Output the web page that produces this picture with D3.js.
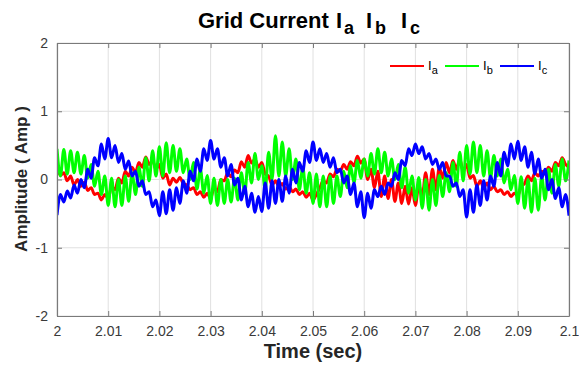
<!DOCTYPE html>
<html><head><meta charset="utf-8">
<script src="https://cdn.jsdelivr.net/npm/d3@7"></script>
<style>body{margin:0;background:#fff}svg{display:block}</style>
</head><body>
<svg id="chart" width="579" height="365"></svg>
<script>
// ---- data (one sample per ripple half-period) ----
const tStart = 2.0;
const tEnd = 2.1;
const Ia = [
 0.20,0.06,0.10,-0.02,0.05,-0.08,0.00,-0.10,-0.04,-0.16,-0.12,-0.22,-0.20,-0.30,-0.22,-0.28,-0.10,-0.15,0.02,-0.05,0.12,0.05,0.18,0.10,0.25,0.18,0.33,0.22,0.28,0.15,
 0.22,0.02,0.08,-0.08,0.02,-0.04,0.03,-0.06,-0.08,-0.15,-0.12,-0.22,-0.18,-0.26,-0.20,-0.28,-0.12,-0.18,0.00,-0.02,0.10,0.04,0.14,0.10,0.26,0.18,0.35,0.24,0.30,0.18,
 0.25,0.08,0.05,-0.08,-0.02,-0.10,-0.06,-0.14,-0.10,-0.18,-0.14,-0.22,-0.18,-0.26,-0.20,-0.30,-0.22,-0.12,-0.02,-0.05,0.08,0.04,0.15,0.12,0.22,0.15,0.26,0.20,0.34,0.24,
 0.30,0.00,0.15,-0.12,0.12,-0.25,0.05,-0.28,0.00,-0.32,-0.05,-0.35,-0.10,-0.36,-0.12,-0.38,-0.08,-0.25,0.10,-0.22,0.15,-0.15,0.18,0.02,0.25,0.10,0.28,0.15,0.30,0.12,
 0.22,0.02,0.06,-0.10,-0.02,-0.12,-0.05,-0.15,-0.10,-0.18,-0.15,-0.22,-0.18,-0.25,-0.20,-0.24,-0.10,-0.06,0.05,-0.02,0.10,0.05,0.12,0.08,0.18,0.12,0.25,0.20,0.32,0.22,
 0.18
];
const Ib = [
 0.45,0.05,0.44,0.08,0.42,0.10,0.40,0.08,0.35,0.02,0.22,-0.10,0.12,-0.22,0.05,-0.38,0.02,-0.40,0.00,-0.38,0.05,-0.32,0.10,-0.22,0.18,-0.10,0.32,-0.02,0.42,0.05,
 0.48,0.05,0.54,0.10,0.50,0.12,0.45,0.10,0.30,0.00,0.25,-0.14,0.15,-0.20,0.06,-0.35,0.02,-0.38,0.00,-0.35,0.00,-0.33,0.02,-0.30,0.10,-0.20,0.25,-0.05,0.38,0.00,
 0.20,-0.15,0.40,0.00,0.64,0.05,0.55,0.05,0.45,0.00,0.30,-0.15,0.18,-0.20,0.10,-0.35,0.08,-0.40,0.05,-0.40,0.05,-0.35,0.05,-0.25,0.12,-0.12,0.20,-0.05,0.28,0.02,
 0.30,0.05,0.38,0.08,0.45,0.10,0.40,0.05,0.30,0.00,0.22,-0.12,0.18,-0.20,0.05,-0.30,0.03,-0.42,0.00,-0.45,0.00,-0.38,0.06,-0.25,0.10,-0.18,0.25,-0.10,0.40,-0.02,
 0.50,0.08,0.55,0.10,0.50,0.05,0.42,0.02,0.35,0.05,0.30,-0.05,0.15,-0.15,0.06,-0.35,0.04,-0.42,0.00,-0.48,0.02,-0.45,0.05,-0.30,0.15,-0.20,0.22,-0.10,0.30,-0.02,
 0.28
];
const Ic = [
 -0.52,-0.22,-0.33,-0.17,-0.27,-0.08,-0.20,0.00,-0.12,0.15,0.02,0.32,0.20,0.52,0.30,0.60,0.32,0.50,0.25,0.38,0.15,0.27,0.05,0.12,-0.10,-0.02,-0.22,-0.18,-0.40,-0.30,
 -0.53,-0.18,-0.50,-0.15,-0.45,-0.12,-0.35,-0.02,-0.20,0.12,-0.02,0.30,0.12,0.45,0.28,0.57,0.30,0.45,0.18,0.32,0.05,0.22,-0.08,0.02,-0.30,-0.10,-0.40,-0.20,-0.48,-0.25,
 -0.47,-0.05,-0.42,-0.02,-0.35,0.00,-0.32,0.05,-0.20,0.15,-0.05,0.25,0.12,0.42,0.25,0.55,0.28,0.45,0.25,0.38,0.18,0.32,0.10,0.15,-0.05,0.05,-0.22,-0.05,-0.40,-0.18,
 -0.56,-0.20,-0.42,-0.15,-0.25,-0.10,-0.22,-0.05,-0.10,0.10,0.00,0.28,0.20,0.45,0.35,0.52,0.38,0.48,0.30,0.38,0.22,0.30,0.15,0.25,0.05,0.05,-0.10,-0.05,-0.25,-0.15,
 -0.55,-0.15,-0.48,-0.08,-0.38,-0.02,-0.30,0.05,-0.10,0.25,0.05,0.40,0.20,0.52,0.30,0.56,0.28,0.48,0.18,0.40,0.08,0.30,0.02,0.15,-0.15,0.00,-0.28,-0.12,-0.40,-0.22,
 -0.53
];
const xTicks = [2, 2.01, 2.02, 2.03, 2.04, 2.05, 2.06, 2.07, 2.08, 2.09, 2.1];
const xTickLabels = ["2","2.01","2.02","2.03","2.04","2.05","2.06","2.07","2.08","2.09","2.1"];
const yTicks = [-2, -1, 0, 1, 2];
const yTickLabels = ["-2","-1","0","1","2"];
const seriesNames = ["a", "b", "c"];
const seriesColors = ["#ff0000", "#00ff00", "#0000ff"];

// ---- layout ----
const svg = d3.select("#chart");
const W = 579, H = 365;
const m = {left: 57, right: 10, top: 43, bottom: 49};
const x = d3.scaleLinear().domain([tStart, tEnd]).range([m.left, W - m.right]);
const y = d3.scaleLinear().domain([-2, 2]).range([H - m.bottom, m.top]);
const font = "'Liberation Sans', Arial, Helvetica, sans-serif";
const axisCol = "#7a7a7a";

svg.append("rect").attr("width", W).attr("height", H).attr("fill", "#fff");

// grid
const g = svg.append("g");
g.selectAll("line.vg").data(xTicks).join("line")
  .attr("x1", d => x(d)).attr("x2", d => x(d))
  .attr("y1", y(-2)).attr("y2", y(2))
  .attr("stroke", "#e0e0e0").attr("stroke-width", 1);
g.selectAll("line.hg").data(yTicks).join("line")
  .attr("x1", x(tStart)).attr("x2", x(tEnd))
  .attr("y1", d => y(d)).attr("y2", d => y(d))
  .attr("stroke", "#e0e0e0").attr("stroke-width", 1);

// data lines
const n = Ia.length;
const times = Ia.map((_, i) => tStart + (tEnd - tStart) * i / (n - 1));
svg.append("clipPath").attr("id", "clip").append("rect")
  .attr("x", x(tStart)).attr("y", y(2)).attr("width", x(tEnd) - x(tStart)).attr("height", y(-2) - y(2));
const line = d3.line().x((d, i) => x(times[i])).y(d => y(d)).curve(d3.curveMonotoneX);
const series = [Ia, Ib, Ic];
svg.append("g").attr("clip-path", "url(#clip)")
  .selectAll("path").data(series).join("path")
  .attr("d", d => line(d))
  .attr("fill", "none")
  .attr("stroke", (d, i) => seriesColors[i])
  .attr("stroke-width", 3)
  .attr("stroke-linejoin", "round");

// axes (MATLAB-style box with inward ticks)
const xAxisB = d3.axisBottom(x).tickValues(xTicks).tickFormat((d, i) => xTickLabels[i]).tickSizeInner(-5).tickSizeOuter(0).tickPadding(10);
const xAxisT = d3.axisTop(x).tickValues(xTicks).tickFormat("").tickSizeInner(-5).tickSizeOuter(0);
const yAxisL = d3.axisLeft(y).tickValues(yTicks).tickFormat((d, i) => yTickLabels[i]).tickSizeInner(-5).tickSizeOuter(0).tickPadding(9);
const yAxisR = d3.axisRight(y).tickValues(yTicks).tickFormat("").tickSizeInner(-5).tickSizeOuter(0);

function style(sel) {
  sel.select(".domain").attr("stroke", axisCol).attr("stroke-width", 1.2);
  sel.selectAll(".tick line").attr("stroke", axisCol);
  sel.selectAll(".tick text").attr("fill", "#3a3a3a").style("font-family", font).style("font-size", "14px");
}
svg.append("g").attr("transform", `translate(0,${y(-2)})`).call(xAxisB).call(style);
svg.append("g").attr("transform", `translate(0,${y(2)})`).call(xAxisT).call(style);
svg.append("g").attr("transform", `translate(${x(tStart)},0)`).call(yAxisL).call(style);
svg.append("g").attr("transform", `translate(${x(tEnd)},0)`).call(yAxisR).call(style);

// title with subscripts
const title = svg.append("text").attr("y", 28)
  .style("font-family", font).style("font-weight", "bold").style("font-size", "22px").attr("fill", "#000");
title.append("tspan").attr("x", 198).text("Grid Current");
const subX = [[336, 344], [366, 375], [401, 410]];
seriesNames.forEach((s, i) => {
  title.append("tspan").attr("x", subX[i][0]).attr("y", 28).text("I");
  title.append("tspan").attr("x", subX[i][1]).attr("y", 34).style("font-size", "18px").text(s);
});

// axis labels
svg.append("text").attr("x", 313).attr("y", 358).attr("text-anchor", "middle")
  .style("font-family", font).style("font-weight", "bold").style("font-size", "20px").attr("fill", "#262626")
  .text("Time (sec)");
svg.append("text").attr("transform", "translate(27,179) rotate(-90)").attr("text-anchor", "middle")
  .style("font-family", font).style("font-weight", "bold").style("font-size", "17px").attr("fill", "#262626")
  .text("Amplitude ( Amp )");

// legend
const legX = [390, 445, 500];
const legY = 66;
const leg = svg.append("g");
seriesNames.forEach((s, i) => {
  leg.append("line").attr("x1", legX[i]).attr("x2", legX[i] + 34).attr("y1", legY).attr("y2", legY)
    .attr("stroke", seriesColors[i]).attr("stroke-width", 2);
  const t = leg.append("text").attr("x", legX[i] + 38).attr("y", legY + 4)
    .style("font-family", font).style("font-size", "13px").attr("fill", "#000");
  t.append("tspan").text("I");
  t.append("tspan").attr("dy", 4).style("font-size", "11px").text(s);
});
</script>
</body></html>
